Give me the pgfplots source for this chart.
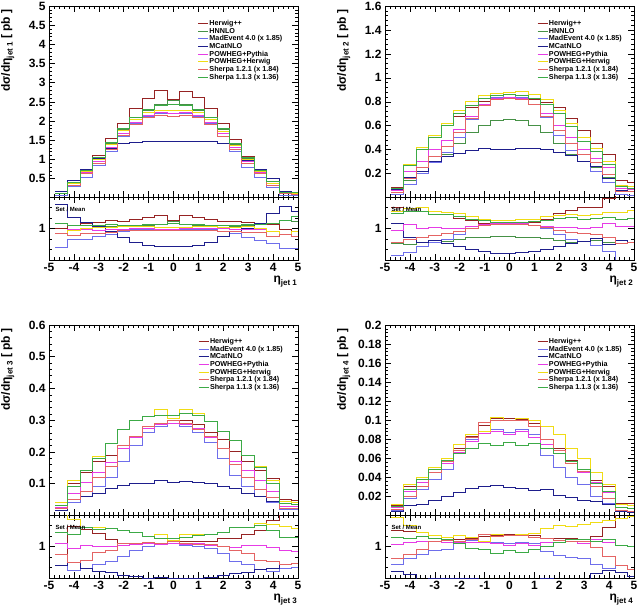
\documentclass[border=0pt]{standalone}
\usepackage{fontspec}
\setmainfont{Liberation Sans}
\usepackage{pgfplots}
\usepackage{pgfplotstable}
\pgfplotsset{compat=1.18}

\definecolor{cH}{RGB}{150,35,35}
\definecolor{cN}{RGB}{70,145,70}
\definecolor{cE}{RGB}{110,110,235}
\definecolor{cM}{RGB}{30,30,140}
\definecolor{cP}{RGB}{230,60,230}
\definecolor{cW}{RGB}{240,220,20}
\definecolor{cS}{RGB}{228,100,100}
\definecolor{cT}{RGB}{60,170,70}

% ---------- jet 1 ----------
\pgfplotstableread{
name -4.75 -4.25 -3.75 -3.25 -2.75 -2.25 -1.75 -1.25 -0.75 -0.25 0.25 0.75 1.25 1.75 2.25 2.75 3.25 3.75 4.25 4.75 5
H 0.11 0.40 0.74 1.10 1.55 1.93 2.32 2.60 2.80 2.55 2.78 2.62 2.32 1.93 1.52 1.08 0.73 0.42 0.11 0.10 0.10
N 0.12 0.40 0.72 1.02 1.42 1.78 2.05 2.28 2.42 2.53 2.42 2.28 2.05 1.78 1.40 1.02 0.72 0.43 0.13 0.12 0.12
E 0.07 0.30 0.54 0.83 1.20 1.60 1.93 2.13 2.20 2.20 2.20 2.13 1.93 1.60 1.20 0.80 0.52 0.28 0.07 0.065 0.065
M 0.16 0.46 0.75 1.03 1.28 1.42 1.45 1.47 1.48 1.47 1.48 1.47 1.46 1.42 1.25 0.97 0.74 0.50 0.16 0.14 0.14
P 0.10 0.37 0.66 0.95 1.32 1.68 1.97 2.15 2.22 2.20 2.22 2.15 1.97 1.68 1.30 0.95 0.66 0.37 0.10 0.10 0.10
W 0.10 0.36 0.68 1.00 1.38 1.75 2.05 2.22 2.28 2.28 2.28 2.22 2.03 1.73 1.36 1.00 0.68 0.37 0.10 0.10 0.10
S 0.10 0.33 0.62 0.90 1.25 1.62 1.90 2.08 2.15 2.12 2.15 2.08 1.90 1.60 1.25 0.90 0.62 0.33 0.10 0.09 0.09
T 0.12 0.40 0.72 1.05 1.45 1.80 2.10 2.30 2.40 2.42 2.40 2.30 2.10 1.80 1.42 1.05 0.72 0.43 0.13 0.13 0.13
}\rawA
% ---------- jet 2 ----------
\pgfplotstableread{
name -4.75 -4.25 -3.75 -3.25 -2.75 -2.25 -1.75 -1.25 -0.75 -0.25 0.25 0.75 1.25 1.75 2.25 2.75 3.25 3.75 4.25 4.75 5
H 0.085 0.28 0.40 0.50 0.60 0.68 0.75 0.80 0.82 0.83 0.83 0.82 0.79 0.75 0.66 0.56 0.455 0.36 0.14 0.13 0.13
N 0.043 0.14 0.22 0.29 0.36 0.45 0.54 0.60 0.64 0.65 0.64 0.60 0.54 0.45 0.36 0.30 0.25 0.17 0.06 0.05 0.05
E 0.03 0.11 0.20 0.29 0.38 0.50 0.65 0.77 0.84 0.86 0.84 0.78 0.67 0.52 0.39 0.30 0.22 0.13 0.03 0.02 0.02
M 0.066 0.17 0.22 0.30 0.34 0.37 0.39 0.41 0.40 0.405 0.41 0.41 0.40 0.38 0.35 0.30 0.26 0.16 0.06 0.05 0.05
P 0.058 0.22 0.30 0.40 0.48 0.57 0.68 0.78 0.83 0.84 0.83 0.78 0.70 0.60 0.50 0.40 0.33 0.25 0.08 0.07 0.07
W 0.08 0.28 0.42 0.52 0.62 0.73 0.80 0.85 0.87 0.88 0.89 0.86 0.82 0.73 0.62 0.50 0.41 0.30 0.10 0.09 0.09
S 0.045 0.16 0.25 0.34 0.43 0.54 0.66 0.77 0.82 0.83 0.82 0.78 0.68 0.56 0.45 0.36 0.29 0.19 0.055 0.05 0.05
T 0.078 0.27 0.40 0.50 0.60 0.70 0.77 0.83 0.85 0.86 0.85 0.83 0.78 0.70 0.59 0.47 0.385 0.28 0.09 0.08 0.08
}\rawB
% ---------- jet 3 ----------
\pgfplotstableread{
name -4.75 -4.25 -3.75 -3.25 -2.75 -2.25 -1.75 -1.25 -0.75 -0.25 0.25 0.75 1.25 1.75 2.25 2.75 3.25 3.75 4.25 4.75 5
H 0.020 0.100 0.135 0.170 0.190 0.220 0.250 0.280 0.290 0.300 0.300 0.285 0.260 0.240 0.200 0.170 0.140 0.115 0.050 0.048 0.048
E 0.015 0.040 0.060 0.090 0.120 0.170 0.220 0.260 0.280 0.290 0.280 0.260 0.230 0.180 0.125 0.090 0.060 0.040 0.018 0.018 0.018
M 0.015 0.050 0.060 0.070 0.085 0.095 0.100 0.100 0.110 0.105 0.107 0.103 0.100 0.092 0.085 0.070 0.060 0.045 0.020 0.020 0.020
P 0.025 0.070 0.105 0.135 0.165 0.210 0.245 0.275 0.285 0.290 0.285 0.275 0.245 0.210 0.170 0.140 0.110 0.075 0.028 0.027 0.027
W 0.040 0.110 0.140 0.185 0.225 0.270 0.300 0.310 0.335 0.305 0.335 0.320 0.295 0.265 0.235 0.190 0.155 0.110 0.042 0.040 0.040
S 0.020 0.050 0.075 0.120 0.155 0.220 0.250 0.280 0.290 0.300 0.290 0.270 0.250 0.210 0.160 0.120 0.080 0.055 0.020 0.020 0.020
T 0.030 0.090 0.140 0.180 0.225 0.270 0.300 0.310 0.315 0.315 0.320 0.315 0.295 0.265 0.235 0.190 0.150 0.100 0.036 0.035 0.035
}\rawC
% ---------- jet 4 ----------
\pgfplotstableread{
name -4.75 -4.25 -3.75 -3.25 -2.75 -2.25 -1.75 -1.25 -0.75 -0.25 0.25 0.75 1.25 1.75 2.25 2.75 3.25 3.75 4.25 4.75 5
H 0.010 0.030 0.040 0.048 0.060 0.070 0.083 0.095 0.102 0.102 0.101 0.097 0.080 0.070 0.058 0.048 0.037 0.030 0.013 0.013 0.013
E 0.005 0.018 0.027 0.038 0.048 0.065 0.080 0.088 0.090 0.087 0.090 0.085 0.063 0.050 0.040 0.033 0.020 0.013 0.005 0.004 0.004
M 0.004 0.011 0.012 0.016 0.020 0.024 0.028 0.030 0.031 0.029 0.028 0.026 0.027 0.021 0.019 0.016 0.015 0.012 0.004 0.003 0.003
P 0.008 0.025 0.035 0.045 0.055 0.066 0.078 0.086 0.088 0.085 0.088 0.082 0.075 0.065 0.055 0.045 0.035 0.024 0.008 0.007 0.007
W 0.012 0.033 0.040 0.050 0.060 0.075 0.085 0.088 0.103 0.100 0.102 0.100 0.093 0.085 0.070 0.060 0.045 0.033 0.012 0.011 0.011
S 0.006 0.020 0.030 0.045 0.057 0.068 0.082 0.098 0.100 0.100 0.100 0.093 0.080 0.068 0.055 0.046 0.030 0.018 0.005 0.004 0.004
T 0.009 0.027 0.038 0.048 0.058 0.065 0.070 0.076 0.073 0.077 0.074 0.076 0.070 0.065 0.057 0.048 0.034 0.025 0.008 0.007 0.007
}\rawD

\pgfplotstabletranspose[colnames from=name,input colnames to=x]\tA\rawA
\pgfplotstabletranspose[colnames from=name,input colnames to=x]\tB\rawB
\pgfplotstabletranspose[colnames from=name,input colnames to=x]\tC\rawC
\pgfplotstabletranspose[colnames from=name,input colnames to=x]\tD\rawD

\pgfplotstablecreatecol[expr={(\thisrow{H}+\thisrow{N}+\thisrow{E}+\thisrow{M}+\thisrow{P}+\thisrow{W}+\thisrow{S}+\thisrow{T})/8}]{A}\tA
\pgfplotstablecreatecol[expr={(\thisrow{H}+\thisrow{N}+\thisrow{E}+\thisrow{M}+\thisrow{P}+\thisrow{W}+\thisrow{S}+\thisrow{T})/8}]{A}\tB
\pgfplotstablecreatecol[expr={(\thisrow{H}+\thisrow{E}+\thisrow{M}+\thisrow{P}+\thisrow{W}+\thisrow{S}+\thisrow{T})/7}]{A}\tC
\pgfplotstablecreatecol[expr={(\thisrow{H}+\thisrow{E}+\thisrow{M}+\thisrow{P}+\thisrow{W}+\thisrow{S}+\thisrow{T})/7}]{A}\tD

\pgfplotsset{
  rootbase/.style={
    scale only axis, width=249pt,
    xmin=-5, xmax=5, xtick={-5,-4,...,5}, minor x tick num=4,
    tick align=inside, xtick pos=both, ytick pos=both,
    major tick length=6pt, minor tick length=3pt,
    /pgf/number format/assume math mode=true,
    ticklabel style={font=\bfseries\fontsize{12}{12}\selectfont},
    yticklabel style={/pgf/number format/fixed},
    axis line style={line width=0.6pt},
    every tick/.style={line width=0.5pt, black},
    every axis plot/.append style={const plot mark left, line width=1pt, mark=none},
    clip=true,
  },
  rootmain/.style={
    rootbase, height=191pt, xticklabels={},
    minor y tick num=4,
    ylabel style={at={(rel axis cs:-0.125,1)}, anchor=south east, font=\bfseries\fontsize{12}{12}\selectfont},
    legend cell align=left,
    legend style={draw=none, fill=none, inner sep=0pt, row sep=0pt,
      font=\bfseries\fontsize{7.2}{7.2}\selectfont,
      nodes={text height=5pt, text depth=1.1pt, inner sep=0.8pt}},
    legend image code/.code={\draw[#1, line width=1.1pt] (0pt,0pt) -- (10pt,0pt);},
  },
  rootratio/.style={
    rootbase, height=63pt, ymin=0.4, ymax=1.6, ytick={1},
    minor ytick={0.6,0.8,1.2,1.4},
    xticklabels={-5,-4,-3,-2,-1,0,1,2,3,4,5},
    xlabel style={at={(rel axis cs:1.01,0)}, anchor=north east, yshift=-13pt, font=\bfseries\fontsize{12}{12}\selectfont},
  },
  sH/.style={color=cH}, sN/.style={color=cN}, sE/.style={color=cE}, sM/.style={color=cM},
  sP/.style={color=cP}, sW/.style={color=cW}, sS/.style={color=cS}, sT/.style={color=cT},
}

\newcommand\jetlab[1]{\raisebox{-0.45ex}{\fontsize{8}{8}\selectfont jet #1}}
\newcommand\setmean{\node[anchor=west, font=\bfseries\fontsize{6}{6}\selectfont] at (rel axis cs:0.012,0.8) {Set / Mean};}

\begin{document}
\begin{tikzpicture}
\useasboundingbox (0,0) rectangle (640pt,614pt);

% ===== Panel 1 =====
\begin{axis}[rootmain, at={(49pt,417pt)}, anchor=south west,
  ymin=0.02, ymax=5, ytick={0.5,1,1.5,2,2.5,3,3.5,4,4.5,5},
  ylabel={dσ/dη\jetlab{1} [ pb ]},
  legend style={at={(rel axis cs:0.596,0.93)}, anchor=north west}]
\addplot[sH] table[x=x,y=H]{\tA}; \addlegendentry{Herwig++}
\addplot[sN] table[x=x,y=N]{\tA}; \addlegendentry{HNNLO}
\addplot[sE] table[x=x,y=E]{\tA}; \addlegendentry{MadEvent 4.0 (x 1.85)}
\addplot[sM] table[x=x,y=M]{\tA}; \addlegendentry{MCatNLO}
\addplot[sP] table[x=x,y=P]{\tA}; \addlegendentry{POWHEG+Pythia}
\addplot[sW] table[x=x,y=W]{\tA}; \addlegendentry{POWHEG+Herwig}
\addplot[sS] table[x=x,y=S]{\tA}; \addlegendentry{Sherpa 1.2.1 (x 1.84)}
\addplot[sT] table[x=x,y=T]{\tA}; \addlegendentry{Sherpa 1.1.3 (x 1.36)}
\end{axis}
\begin{axis}[rootratio, at={(49pt,354pt)}, anchor=south west,
  xlabel={η\jetlab{1}}]
\addplot[sH] table[x=x,y expr=\thisrow{H}/\thisrow{A}]{\tA};
\addplot[sN] table[x=x,y expr=\thisrow{N}/\thisrow{A}]{\tA};
\addplot[sE] table[x=x,y expr=\thisrow{E}/\thisrow{A}]{\tA};
\addplot[sM] table[x=x,y expr=\thisrow{M}/\thisrow{A}]{\tA};
\addplot[sP] table[x=x,y expr=\thisrow{P}/\thisrow{A}]{\tA};
\addplot[sW] table[x=x,y expr=\thisrow{W}/\thisrow{A}]{\tA};
\addplot[sS] table[x=x,y expr=\thisrow{S}/\thisrow{A}]{\tA};
\addplot[sT] table[x=x,y expr=\thisrow{T}/\thisrow{A}]{\tA};
\setmean
\end{axis}

% ===== Panel 2 =====
\begin{axis}[rootmain, at={(385pt,417pt)}, anchor=south west,
  ymin=0.005, ymax=1.6, ytick={0.2,0.4,0.6,0.8,1,1.2,1.4,1.6},
  ylabel={dσ/dη\jetlab{2} [ pb ]},
  legend style={at={(rel axis cs:0.61,0.93)}, anchor=north west}]
\addplot[sH] table[x=x,y=H]{\tB}; \addlegendentry{Herwig++}
\addplot[sN] table[x=x,y=N]{\tB}; \addlegendentry{HNNLO}
\addplot[sE] table[x=x,y=E]{\tB}; \addlegendentry{MadEvent 4.0 (x 1.85)}
\addplot[sM] table[x=x,y=M]{\tB}; \addlegendentry{MCatNLO}
\addplot[sP] table[x=x,y=P]{\tB}; \addlegendentry{POWHEG+Pythia}
\addplot[sW] table[x=x,y=W]{\tB}; \addlegendentry{POWHEG+Herwig}
\addplot[sS] table[x=x,y=S]{\tB}; \addlegendentry{Sherpa 1.2.1 (x 1.84)}
\addplot[sT] table[x=x,y=T]{\tB}; \addlegendentry{Sherpa 1.1.3 (x 1.36)}
\end{axis}
\begin{axis}[rootratio, at={(385pt,354pt)}, anchor=south west,
  xlabel={η\jetlab{2}}]
\addplot[sH] table[x=x,y expr=\thisrow{H}/\thisrow{A}]{\tB};
\addplot[sN] table[x=x,y expr=\thisrow{N}/\thisrow{A}]{\tB};
\addplot[sE] table[x=x,y expr=\thisrow{E}/\thisrow{A}]{\tB};
\addplot[sM] table[x=x,y expr=\thisrow{M}/\thisrow{A}]{\tB};
\addplot[sP] table[x=x,y expr=\thisrow{P}/\thisrow{A}]{\tB};
\addplot[sW] table[x=x,y expr=\thisrow{W}/\thisrow{A}]{\tB};
\addplot[sS] table[x=x,y expr=\thisrow{S}/\thisrow{A}]{\tB};
\addplot[sT] table[x=x,y expr=\thisrow{T}/\thisrow{A}]{\tB};
\setmean
\end{axis}

% ===== Panel 3 =====
\begin{axis}[rootmain, at={(49pt,99pt)}, anchor=south west, height=190pt,
  ymin=0.001, ymax=0.6, ytick={0.1,0.2,0.3,0.4,0.5,0.6},
  ylabel={dσ/dη\jetlab{3} [ pb ]},
  legend style={at={(rel axis cs:0.598,0.935)}, anchor=north west}]
\addplot[sH] table[x=x,y=H]{\tC}; \addlegendentry{Herwig++}
\addplot[sE] table[x=x,y=E]{\tC}; \addlegendentry{MadEvent 4.0 (x 1.85)}
\addplot[sM] table[x=x,y=M]{\tC}; \addlegendentry{MCatNLO}
\addplot[sP] table[x=x,y=P]{\tC}; \addlegendentry{POWHEG+Pythia}
\addplot[sW] table[x=x,y=W]{\tC}; \addlegendentry{POWHEG+Herwig}
\addplot[sS] table[x=x,y=S]{\tC}; \addlegendentry{Sherpa 1.2.1 (x 1.84)}
\addplot[sT] table[x=x,y=T]{\tC}; \addlegendentry{Sherpa 1.1.3 (x 1.36)}
\end{axis}
\begin{axis}[rootratio, at={(49pt,36pt)}, anchor=south west,
  xlabel={η\jetlab{3}}]
\addplot[sH] table[x=x,y expr=\thisrow{H}/\thisrow{A}]{\tC};
\addplot[sE] table[x=x,y expr=\thisrow{E}/\thisrow{A}]{\tC};
\addplot[sM] table[x=x,y expr=\thisrow{M}/\thisrow{A}]{\tC};
\addplot[sP] table[x=x,y expr=\thisrow{P}/\thisrow{A}]{\tC};
\addplot[sW] table[x=x,y expr=\thisrow{W}/\thisrow{A}]{\tC};
\addplot[sS] table[x=x,y expr=\thisrow{S}/\thisrow{A}]{\tC};
\addplot[sT] table[x=x,y expr=\thisrow{T}/\thisrow{A}]{\tC};
\setmean
\end{axis}

% ===== Panel 4 =====
\begin{axis}[rootmain, at={(385pt,99pt)}, anchor=south west, height=190pt,
  ymin=0.0005, ymax=0.2, ytick={0.02,0.04,0.06,0.08,0.1,0.12,0.14,0.16,0.18,0.2},
  ylabel={dσ/dη\jetlab{4} [ pb ]},
  legend style={at={(rel axis cs:0.61,0.935)}, anchor=north west}]
\addplot[sH] table[x=x,y=H]{\tD}; \addlegendentry{Herwig++}
\addplot[sE] table[x=x,y=E]{\tD}; \addlegendentry{MadEvent 4.0 (x 1.85)}
\addplot[sM] table[x=x,y=M]{\tD}; \addlegendentry{MCatNLO}
\addplot[sP] table[x=x,y=P]{\tD}; \addlegendentry{POWHEG+Pythia}
\addplot[sW] table[x=x,y=W]{\tD}; \addlegendentry{POWHEG+Herwig}
\addplot[sS] table[x=x,y=S]{\tD}; \addlegendentry{Sherpa 1.2.1 (x 1.84)}
\addplot[sT] table[x=x,y=T]{\tD}; \addlegendentry{Sherpa 1.1.3 (x 1.36)}
\end{axis}
\begin{axis}[rootratio, at={(385pt,36pt)}, anchor=south west,
  xlabel={η\jetlab{4}}]
\addplot[sH] table[x=x,y expr=\thisrow{H}/\thisrow{A}]{\tD};
\addplot[sE] table[x=x,y expr=\thisrow{E}/\thisrow{A}]{\tD};
\addplot[sM] table[x=x,y expr=\thisrow{M}/\thisrow{A}]{\tD};
\addplot[sP] table[x=x,y expr=\thisrow{P}/\thisrow{A}]{\tD};
\addplot[sW] table[x=x,y expr=\thisrow{W}/\thisrow{A}]{\tD};
\addplot[sS] table[x=x,y expr=\thisrow{S}/\thisrow{A}]{\tD};
\addplot[sT] table[x=x,y expr=\thisrow{T}/\thisrow{A}]{\tD};
\setmean
\end{axis}
\end{tikzpicture}
\end{document}
